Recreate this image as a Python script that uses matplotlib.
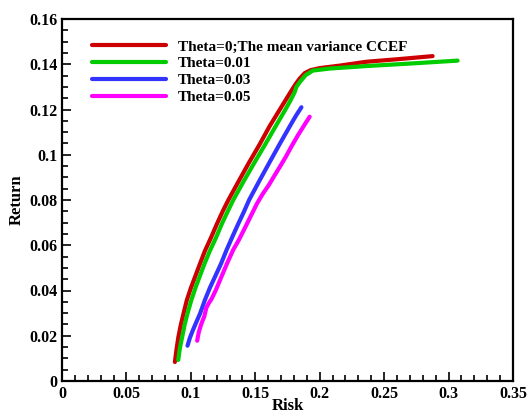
import matplotlib
matplotlib.use("Agg")
import matplotlib.pyplot as plt
from matplotlib.ticker import MultipleLocator, FuncFormatter

# frontier points (risk, return)
risk_t0 = [0.0876, 0.0888, 0.0903, 0.0922, 0.0946, 0.0969, 0.1000, 0.1035, 0.1070, 0.1109,
           0.1155, 0.1202, 0.1248, 0.1291, 0.1372, 0.1450, 0.1531, 0.1612, 0.1698, 0.1779,
           0.1814, 0.1845, 0.1884, 0.1930, 0.2000, 0.2155, 0.2362, 0.2620, 0.2876]
ret_t0 = [0.0084, 0.0137, 0.0194, 0.0248, 0.0305, 0.0358, 0.0411, 0.0464, 0.0517, 0.0575,
          0.0632, 0.0694, 0.0751, 0.0800, 0.0884, 0.0964, 0.1043, 0.1127, 0.1207, 0.1282,
          0.1313, 0.1337, 0.1361, 0.1374, 0.1383, 0.1394, 0.1411, 0.1423, 0.1436]

risk_t1 = [0.0902, 0.0915, 0.0934, 0.0953, 0.0977, 0.1004, 0.1035, 0.1070, 0.1105, 0.1147,
           0.1194, 0.1240, 0.1287, 0.1329, 0.1411, 0.1492, 0.1574, 0.1659, 0.1736, 0.1775,
           0.1806, 0.1818, 0.1845, 0.1891, 0.1946, 0.2078, 0.2362, 0.2698, 0.3070]
ret_t1 = [0.0093, 0.0146, 0.0199, 0.0252, 0.0305, 0.0358, 0.0411, 0.0464, 0.0517, 0.0575,
          0.0632, 0.0694, 0.0751, 0.0800, 0.0884, 0.0964, 0.1043, 0.1127, 0.1202, 0.1242,
          0.1277, 0.1299, 0.1321, 0.1352, 0.1372, 0.1381, 0.1392, 0.1403, 0.1416]

risk_t3 = [0.0974, 0.0992, 0.1016, 0.1043, 0.1070, 0.1109, 0.1147, 0.1190, 0.1233, 0.1277,
           0.1318, 0.1364, 0.1411, 0.1452, 0.1531, 0.1612, 0.1690, 0.1773, 0.1814, 0.1858]
ret_t3 = [0.0156, 0.0190, 0.0225, 0.0261, 0.0296, 0.0358, 0.0411, 0.0464, 0.0517, 0.0579,
          0.0632, 0.0690, 0.0747, 0.0800, 0.0884, 0.0968, 0.1048, 0.1131, 0.1171, 0.1210]

risk_t5 = [0.1049, 0.1062, 0.1081, 0.1105, 0.1120, 0.1140, 0.1160, 0.1194, 0.1233, 0.1279,
           0.1328, 0.1372, 0.1419, 0.1465, 0.1514, 0.1558, 0.1605, 0.1647, 0.1690, 0.1736,
           0.1783, 0.1832, 0.1876, 0.1922]
ret_t5 = [0.0178, 0.0217, 0.0252, 0.0287, 0.0323, 0.0345, 0.0362, 0.0402, 0.0455, 0.0517,
          0.0579, 0.0623, 0.0676, 0.0729, 0.0785, 0.0827, 0.0866, 0.0906, 0.0946, 0.0990,
          0.1039, 0.1087, 0.1127, 0.1168]

labels = ["Theta=0;The mean variance CCEF", "Theta=0.01", "Theta=0.03", "Theta=0.05"]
colors = ["#cc0000", "#00cc00", "#3333ff", "#ff00ff"]

plt.rcParams['font.family'] = ['Liberation Serif', 'DejaVu Serif']
plt.rcParams['font.weight'] = 'bold'

fig = plt.figure(figsize=(5.28, 4.17), dpi=100)
ax = fig.add_axes([62/528, 1-381/417, 451/528, 362/417])

series = [(risk_t0, ret_t0), (risk_t1, ret_t1), (risk_t3, ret_t3), (risk_t5, ret_t5)]
for (x, y), lab, c in zip(series, labels, colors):
    ax.plot(x, y, color=c, lw=3, label=lab, solid_capstyle='round', solid_joinstyle='round')

ax.set_xlim(0, 0.35)
ax.set_ylim(0, 0.16)
ax.xaxis.set_major_locator(MultipleLocator(0.05))
ax.xaxis.set_minor_locator(MultipleLocator(0.01))
ax.yaxis.set_major_locator(MultipleLocator(0.02))
ax.yaxis.set_minor_locator(MultipleLocator(0.005))
fmt = FuncFormatter(lambda v, p: "%g" % round(v, 4))
ax.xaxis.set_major_formatter(fmt)
ax.yaxis.set_major_formatter(fmt)
ax.tick_params(which='both', direction='in', top=False, right=False, width=1.2, labelsize=11.5)
ax.tick_params(which='major', length=6.5, pad=3.5)
ax.tick_params(which='minor', length=4.3)
for s in ax.spines.values():
    s.set_linewidth(1.6)

ax.set_xlabel("Risk", fontsize=12, fontweight='bold', labelpad=-2.5)
ax.set_ylabel("Return", fontsize=12, fontweight='bold', labelpad=3)

ax.legend(loc='upper left', bbox_to_anchor=(0.066, 0.942), frameon=False,
          fontsize=11, handlelength=4.85, handletextpad=0.78, labelspacing=0.2,
          borderpad=0, borderaxespad=0)

fig.savefig("out.png", dpi=100)
